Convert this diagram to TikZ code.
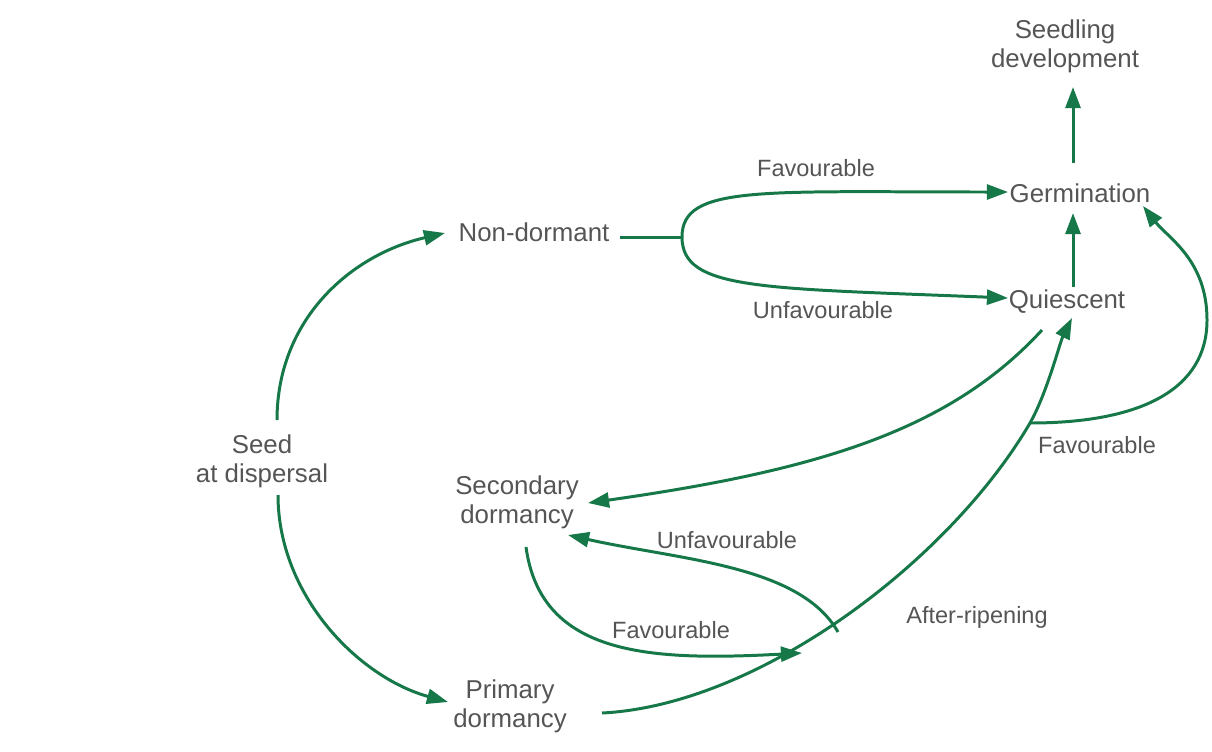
\documentclass[tikz,border=0pt]{standalone}
\usepackage{fontspec}
\setmainfont{Liberation Sans}
\usetikzlibrary{arrows.meta,calc}
\definecolor{seedgreen}{RGB}{22,120,72}
\definecolor{labelgrey}{RGB}{85,85,85}

\begin{document}
\begin{tikzpicture}[x=0.02cm,y=-0.02cm,
  state/.style={text=labelgrey, align=center, inner sep=1pt,
    font=\fontsize{14.7}{16.5}\selectfont},
  cond/.style={text=labelgrey, inner sep=1pt,
    font=\fontsize{13.4}{16}\selectfont},
  link/.style={draw=seedgreen, line width=1.7pt},
  flow/.style={link, -{Triangle[length=12pt,width=8.5pt]}}]

  \useasboundingbox (0,0) rectangle (1212,751);

  % the states of the seed
  \node[state] (seedling) at (1065,46) {Seedling\\development};
  \node[state] (germ) at (1080,193) {Germination};
  \node[state] (quiescent) at (1067,302) {Quiescent};
  \node[state] (nondorm) at (534,232) {Non-dormant};
  \node[state] (seed) at (262,461) {Seed\\at dispersal};
  \node[state] (secondary) at (517,502) {Secondary\\dormancy};
  \node[state] (primary) at (510,706) {Primary\\dormancy};

  % the conditions
  \node[cond] (favtop) at (816,168) {Favourable};
  \node[cond] (unfavtop) at (823,310) {Unfavourable};
  \node[cond] (favright) at (1097,445) {Favourable};
  \node[cond] (unfavmid) at (727,540) {Unfavourable};
  \node[cond] (favlow) at (671,630) {Favourable};
  \node[cond] (ripening) at (977,617) {After-ripening};

  % points where lines split or end
  \coordinate (fork) at ($(nondorm)+(148,5)$);
  \coordinate (ripe) at ($(quiescent)+(-37,121)$);
  \coordinate (favend) at (802,653);
  \coordinate (unfstart) at (838,632);

  % straight up
  \draw[flow] ($(germ)+(-7,-30)$) -- ($(seedling)+(8,41)$);
  \draw[flow] ($(quiescent)+(6,-15)$) -- ($(germ)+(-7,20)$);

  % from seed at dispersal
  \draw[flow] ($(seed)+(15,-41)$) .. controls +(0,-100) and +(-95,22) .. ($(nondorm)+(-89,1)$);
  \draw[flow] ($(seed)+(16,34)$) .. controls +(0,100) and +(-90,-25) .. ($(primary)+(-62,-4)$);

  % non-dormant splits
  \draw[link] ($(nondorm)+(86,5)$) -- (fork);
  \draw[flow] (fork) .. controls +(0,-52) and +(-248,0) .. ($(germ)+(-72,-1)$);
  \draw[flow] (fork) .. controls +(0,53) and +(-248,-10) .. ($(quiescent)+(-59,-4)$);

  % after-ripening and the loop back
  \draw[flow] ($(primary)+(92,7)$) .. controls +(158,-8) and +(-80,137) .. (ripe)
    .. controls +(17,-30) and +(-12,24) .. ($(quiescent)+(5,16)$);
  \draw[flow] (ripe) .. controls +(110,0) and +(0,70) .. ($(ripe)+(177,-103)$)
    .. controls +(0,-60) and +(25,32) .. ($(germ)+(63,13)$);

  % secondary dormancy
  \draw[flow] ($(quiescent)+(-25,28)$) .. controls +(-92,100) and +(232,-33) .. ($(secondary)+(71,1)$);
  \draw[flow] ($(secondary)+(9,45)$) .. controls +(15,110) and +(-150,8) .. (favend);
  \draw[flow] (unfstart) .. controls +(-38,-67) and +(112,25) .. ($(secondary)+(51,33)$);

\end{tikzpicture}
\end{document}
